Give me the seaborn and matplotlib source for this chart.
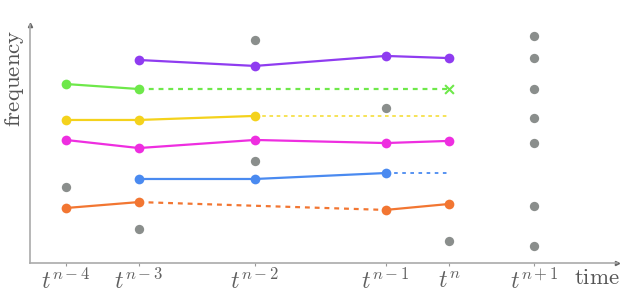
import numpy as np
import pandas as pd
import seaborn as sns
import matplotlib.pyplot as plt

# time steps (irregular spacing, as drawn) and their labels
t_pos = [0, 1, 2.59, 4.38, 5.25, 6.42]
t_labels = [r'$t^{n-4}$', r'$t^{n-3}$', r'$t^{n-2}$', r'$t^{n-1}$', r'$t^{n}$', r'$t^{n+1}$']

nan = np.nan
# solid tracks (frequency values per time step)
purple = [nan, 8.53, 8.28, 8.70, 8.61, nan]
green = [7.52, 7.31, nan, nan, nan, nan]
yellow = [6.01, 6.01, 6.18, nan, nan, nan]
magenta = [5.17, 4.83, 5.17, 5.04, 5.13, nan]
blue = [nan, 3.53, 3.53, 3.78, nan, nan]
orange_a = [2.31, 2.56, nan, nan, nan, nan]
orange_b = [nan, nan, nan, 2.23, 2.48, nan]

# dashed predictions / gaps
green_dash = [nan, 7.31, nan, nan, 7.31, nan]
yellow_dash = [nan, nan, 6.18, nan, 6.18, nan]
blue_dash = [nan, nan, nan, 3.78, 3.78, nan]
orange_dash = [nan, 2.56, nan, nan, nan, nan]
orange_dash_end = [nan, nan, nan, 2.23, nan, nan]

# unassigned detections (gray)
gray_idx = [0, 1, 2, 2, 3, 4, 5, 5, 5, 5, 5, 5, 5]
gray_val = [3.19, 1.43, 9.37, 4.29, 6.51, 0.92, 9.54, 8.61, 7.31, 6.09, 5.04, 2.39, 0.71]

colors = {'purple': '#8f3cf0', 'green': '#6ee84a', 'yellow': '#f4d21c',
          'magenta': '#ee2ee0', 'blue': '#4a8af0', 'orange': '#f27632'}

sns.set_style("white")
plt.rcParams['mathtext.fontset'] = 'cm'

fig = plt.figure(figsize=(6.23, 2.94), dpi=100)
ax = fig.add_axes([30 / 623, 1 - 263 / 294, 587 / 623, 238 / 294])


def track(vals):
    df = pd.DataFrame({'t': t_pos, 'f': vals}).dropna()
    return df


def join(a, b):
    # merge two sparse series into a two-point segment
    v = [x if not np.isnan(x) else y for x, y in zip(a, b)]
    return track(v)


# dashed parts first
sns.lineplot(data=track(green_dash), x='t', y='f', ax=ax, color=colors['green'],
             linewidth=1.6, linestyle=(0, (2.2, 2.2)))
sns.lineplot(data=track(yellow_dash), x='t', y='f', ax=ax, color='#f6e04a',
             linewidth=1.3, linestyle=(0, (2, 2)))
sns.lineplot(data=track(blue_dash), x='t', y='f', ax=ax, color=colors['blue'],
             linewidth=1.3, linestyle=(0, (2, 2.5)))
sns.lineplot(data=join(orange_dash, orange_dash_end), x='t', y='f', ax=ax,
             color=colors['orange'], linewidth=1.6, linestyle=(0, (2.2, 2.2)))

# solid tracks with markers
for vals, c in [(purple, 'purple'), (green, 'green'), (yellow, 'yellow'),
                (magenta, 'magenta'), (blue, 'blue'), (orange_a, 'orange'),
                (orange_b, 'orange')]:
    sns.lineplot(data=track(vals), x='t', y='f', ax=ax, color=colors[c],
                 linewidth=1.6, marker='o', markersize=7, markeredgewidth=0)

# lost track end marker
sns.scatterplot(x=[t_pos[4]], y=[green_dash[4]], ax=ax, marker='x', s=40,
                color=colors['green'], linewidth=1.5)

# gray detections
sns.scatterplot(x=[t_pos[i] for i in gray_idx], y=gray_val, ax=ax, color='#8a8e8c',
                s=45, linewidth=0, zorder=5)

ax.set_xlim(-0.49, 7.55)
ax.set_ylim(0, 10)
ax.set_xticks(t_pos)
ax.set_xticklabels(t_labels, fontsize=17, color='#606060')
ax.set_yticks([])
ax.set_xlabel('')
ax.set_ylabel('')
ax.tick_params(axis='x', length=2, width=0.8, color='#999999', pad=2, bottom=True)
for s in ['top', 'right']:
    ax.spines[s].set_visible(False)
for s in ['left', 'bottom']:
    ax.spines[s].set_color('#aaaaaa')
    ax.spines[s].set_linewidth(1.2)

# arrow tips on the axes
ax.plot(1, 0, '>', transform=ax.transAxes, clip_on=False, color='#666666', markersize=3)
ax.plot(0, 1, '^', transform=ax.transAxes, clip_on=False, color='#666666', markersize=3)

fig.text(597 / 623, 1 - 277 / 294, r'$\mathrm{time}$', fontsize=16.5, color='#555555',
         ha='center', va='center')
fig.text(15 / 623, 1 - 78 / 294, r'$\mathrm{frequency}$', fontsize=16.5, color='#555555',
         ha='center', va='center', rotation=90)

fig.savefig('out.png', dpi=100)
